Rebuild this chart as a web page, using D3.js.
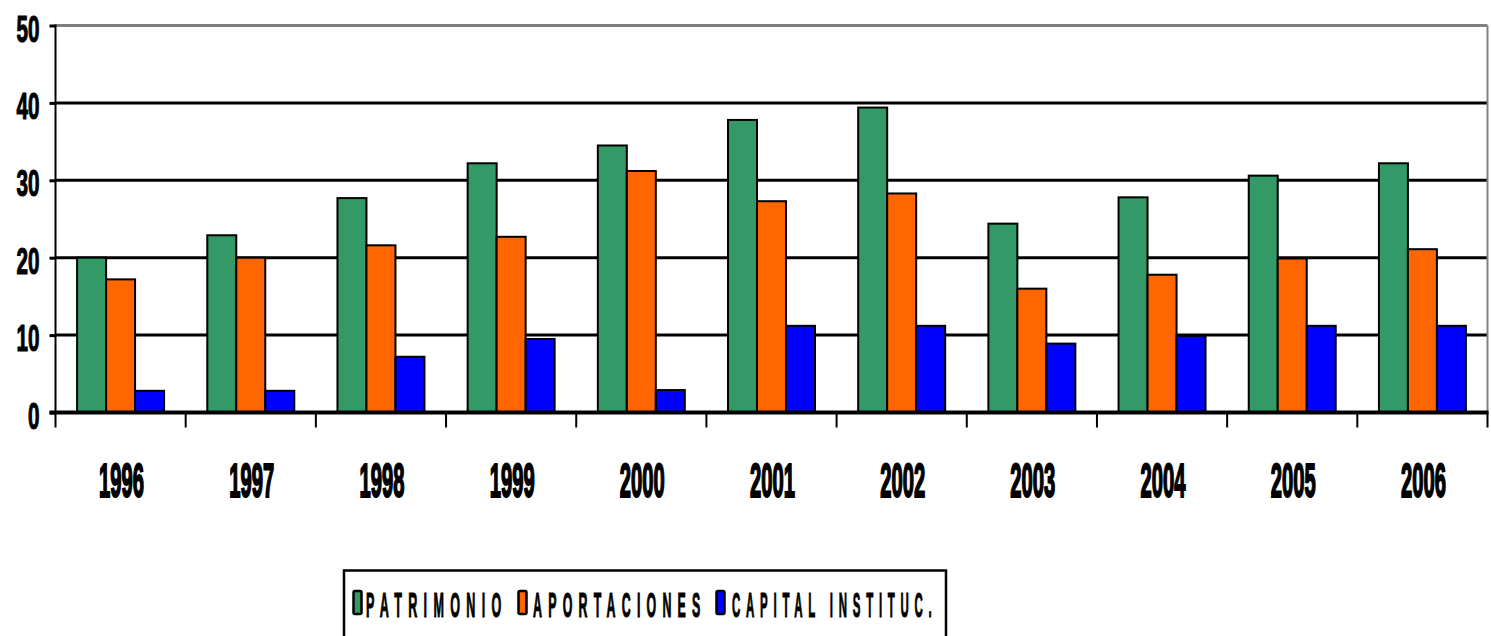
<!DOCTYPE html>
<html>
<head>
<meta charset="utf-8">
<script src="https://cdn.jsdelivr.net/npm/d3@7"></script>
<style>
  body { margin: 0; background: #fff; }
  svg { display: block; }
</style>
</head>
<body>
<div id="chart"></div>
<script>
// data
const years = ["1996", "1997", "1998", "1999", "2000", "2001", "2002", "2003", "2004", "2005", "2006"];
const seriesNames = ["PATRIMONIO", "APORTACIONES", "CAPITAL INSTITUC."];
const patrimonio   = [20.0, 22.9, 27.7, 32.2, 34.5, 37.8, 39.4, 24.4, 27.8, 30.6, 32.2];
const aportaciones = [17.2, 20.0, 21.6, 22.7, 31.2, 27.3, 28.3, 16.0, 17.8, 19.9, 21.1];
const capital      = [2.8, 2.8, 7.2, 9.5, 2.9, 11.2, 11.2, 8.9, 9.9, 11.2, 11.2];
const yTicks = [0, 10, 20, 30, 40, 50];
const colors = ["#339966", "#ff6600", "#0000ff"];

const width = 1491, height = 636;
const plot = {left: 55.5, right: 1487.5, top: 25.5, bottom: 412.5};
const font = "'Liberation Sans', Arial, sans-serif";

const svg = d3.select("#chart")
    .append("svg")
        .attr("width", width)
        .attr("height", height);

const x = d3.scaleBand()
    .domain(years)
    .range([plot.left, plot.right])
    .padding(0);

const xs = d3.scaleBand()
    .domain(seriesNames)
    .range([0, x.bandwidth()])
    .paddingInner(0)
    .paddingOuter(0.745);

const y = d3.scaleLinear()
    .domain([0, 50])
    .range([plot.bottom, plot.top]);

// squeeze a text horizontally to a target width (the original font is very condensed)
function squeeze(sel, targetWidth, anchorX, baseY, align) {
    sel.each(function() {
        const t = d3.select(this);
        const w = this.getComputedTextLength();
        const s = targetWidth / w;
        const x0 = align === "middle" ? anchorX - targetWidth / 2 : anchorX;
        t.attr("x", 0).attr("y", 0)
         .attr("transform", `translate(${x0},${baseY}) scale(${s},1)`);
    });
}

// grid lines (top one is grey like the plot area border)
svg.append("g")
    .selectAll("line")
    .data(yTicks.filter(d => d > 0))
    .enter()
    .append("line")
    .attr("x1", plot.left)
    .attr("x2", plot.right)
    .attr("y1", d => y(d))
    .attr("y2", d => y(d))
    .attr("stroke", d => d === 50 ? "#808080" : "#000")
    .attr("stroke-width", 3);

// right border of plot area
svg.append("line")
    .attr("x1", plot.right).attr("x2", plot.right)
    .attr("y1", plot.top).attr("y2", plot.bottom)
    .attr("stroke", "#808080")
    .attr("stroke-width", 2);

// bars
const rows = years.map((yr, i) => ({
    year: yr,
    values: [patrimonio[i], aportaciones[i], capital[i]]
}));

const groups = svg.append("g")
    .selectAll("g")
    .data(rows)
    .enter()
    .append("g")
    .attr("transform", d => `translate(${x(d.year)},0)`);

groups.selectAll("rect")
    .data(d => d.values.map((v, k) => ({name: seriesNames[k], value: v, k: k})))
    .enter()
    .append("rect")
    .attr("x", d => xs(d.name))
    .attr("y", d => y(d.value))
    .attr("width", xs.bandwidth())
    .attr("height", d => y(0) - y(d.value))
    .attr("fill", d => colors[d.k])
    .attr("stroke", "#000")
    .attr("stroke-width", 2);

// y axis
const yAxis = svg.append("g")
    .attr("transform", `translate(${plot.left},0)`)
    .call(d3.axisLeft(y).tickValues(yTicks).tickSize(6).tickPadding(10).tickFormat(d3.format("d")));
yAxis.select(".domain").remove();
yAxis.selectAll(".tick line").attr("stroke", "#000").attr("stroke-width", 3);
yAxis.selectAll(".tick text")
    .attr("font-family", font)
    .attr("font-weight", "bold")
    .attr("font-size", 37)
    .attr("fill", "#000")
    .attr("stroke", "#000")
    .attr("stroke-width", 1.2)
    .attr("dy", "0.42em")
    .attr("textLength", d => String(d).length * 11.5)
    .attr("lengthAdjust", "spacingAndGlyphs");

svg.append("line")
    .attr("x1", plot.left).attr("x2", plot.left)
    .attr("y1", plot.top - 1).attr("y2", plot.bottom + 15)
    .attr("stroke", "#000")
    .attr("stroke-width", 2);

// x axis ticks at category boundaries
svg.append("g")
    .selectAll("line")
    .data(years.slice(1).concat(["end"]))
    .enter()
    .append("line")
    .attr("x1", d => d === "end" ? plot.right : x(d))
    .attr("x2", d => d === "end" ? plot.right : x(d))
    .attr("y1", plot.bottom)
    .attr("y2", plot.bottom + 15)
    .attr("stroke", "#000")
    .attr("stroke-width", 2);

// zero line
svg.append("line")
    .attr("x1", plot.left - 6).attr("x2", plot.right + 1)
    .attr("y1", y(0)).attr("y2", y(0))
    .attr("stroke", "#000")
    .attr("stroke-width", 4);

// year labels
svg.append("g")
    .selectAll("text")
    .data(years)
    .enter()
    .append("text")
    .attr("font-family", font)
    .attr("font-weight", "bold")
    .attr("font-size", 48)
    .attr("stroke", "#000")
    .attr("stroke-width", 1.6)
    .attr("vector-effect", "non-scaling-stroke")
    .text(d => d)
    .each(function(d) {
        squeeze(d3.select(this), 45, x(d) + x.bandwidth() / 2 + 1, 497, "middle");
    });

// legend
const legend = svg.append("g");
legend.append("rect")
    .attr("x", 344).attr("y", 570.5)
    .attr("width", 602).attr("height", 80)
    .attr("fill", "#fff")
    .attr("stroke", "#000")
    .attr("stroke-width", 2.5);

const legendItems = [
    {name: seriesNames[0], sx: 353.5, tx: 366, tw: 137},
    {name: seriesNames[1], sx: 518.5, tx: 533, tw: 169},
    {name: seriesNames[2], sx: 716.5, tx: 732, tw: 201}
];

legendItems.forEach((d, k) => {
    legend.append("rect")
        .attr("x", d.sx).attr("y", 591)
        .attr("width", 8).attr("height", 23)
        .attr("rx", 1.5)
        .attr("fill", colors[k])
        .attr("stroke", "#000")
        .attr("stroke-width", 2.5);
    const t = legend.append("text")
        .attr("font-family", font)
        .attr("font-weight", "bold")
        .attr("font-size", 36)
        .attr("letter-spacing", 18)
        .attr("stroke", "#000")
        .attr("stroke-width", 0.8)
        .attr("vector-effect", "non-scaling-stroke")
        .text(d.name);
    squeeze(t, d.tw + 14 * 0.33, d.tx, 616.5, "start");
});
</script>
</body>
</html>
